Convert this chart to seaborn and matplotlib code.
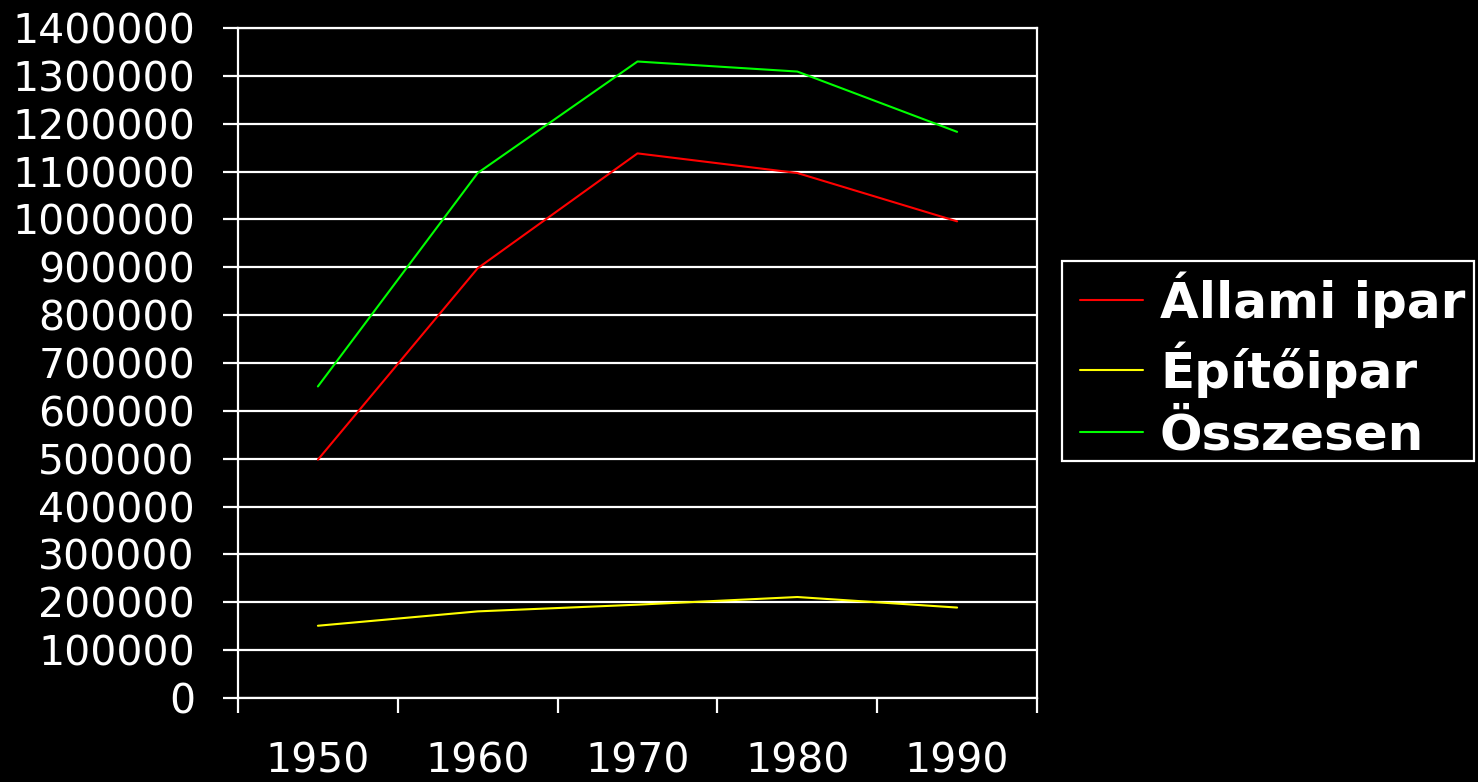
import matplotlib
matplotlib.use("Agg")
import matplotlib.pyplot as plt
import seaborn as sns
import pandas as pd
import numpy as np
from matplotlib.ticker import FixedLocator, NullFormatter
from matplotlib.patches import Rectangle

years = ["1950", "1960", "1970", "1980", "1990"]
allami_ipar = [498000, 898000, 1138000, 1097000, 996000]
epitoipar = [151000, 181000, 195000, 211000, 189000]
osszesen = [651000, 1097000, 1330000, 1309000, 1183000]
series_names = ["Állami ipar", "Építőipar", "Összesen"]
colors = ["#FF0000", "#FFFF00", "#00FF00"]
y_ticks = list(range(0, 1400001, 100000))

df = pd.DataFrame({
    "pos": list(range(len(years))) * 3,
    "value": allami_ipar + epitoipar + osszesen,
    "series": [series_names[0]] * 5 + [series_names[1]] * 5 + [series_names[2]] * 5,
})

sns.set_style("dark")
plt.rcParams["font.family"] = ["DejaVu Sans"]

fig = plt.figure(figsize=(14.78, 7.82), dpi=100, facecolor="black")
ax = fig.add_axes([238 / 1478, 1 - 698 / 782, (1037 - 238) / 1478, (698 - 28) / 782])
ax.set_facecolor("black")

sns.lineplot(data=df, x="pos", y="value", hue="series", palette=colors,
             linewidth=1.5, ax=ax, legend=True)

ax.set_xlim(-0.5, 4.5)
ax.set_ylim(0, 1400000)
ax.set_yticks(y_ticks)
ax.set_yticklabels([str(v) for v in y_ticks])
ax.yaxis.grid(True, color="white", linewidth=1.6)
ax.xaxis.grid(False)

ax.xaxis.set_major_locator(FixedLocator(np.arange(-0.5, 5.0, 1.0)))
ax.xaxis.set_major_formatter(NullFormatter())
ax.xaxis.set_minor_locator(FixedLocator(np.arange(0, 5)))
ax.set_xticklabels(years, minor=True, fontsize=29.5)
ax.tick_params(axis="x", which="major", length=11, width=1.6, color="white", direction="out", bottom=True)
ax.tick_params(axis="x", which="minor", length=0, pad=31, labelcolor="white")
ax.tick_params(axis="y", length=11, width=1.6, color="white", pad=20, labelsize=29.5,
               labelcolor="white", left=True)
ax.set_xlabel("")
ax.set_ylabel("")

for side in ["left", "right", "bottom", "top"]:
    ax.spines[side].set_visible(True)
    ax.spines[side].set_color("white")
    ax.spines[side].set_linewidth(1.6)

# legend frame drawn separately (outline only)
frame = Rectangle((1062 / 1478, 1 - 461 / 782), (1474 - 1062) / 1478, 200 / 782,
                  transform=fig.transFigure, facecolor="none", edgecolor="white",
                  linewidth=1.6, zorder=5)
fig.patches.append(frame)

handles, labels = ax.get_legend_handles_labels()
leg = ax.legend(handles, labels, loc="upper left",
                bbox_to_anchor=(1080 / 1478, 1 - 271 / 782),
                bbox_transform=fig.transFigure,
                frameon=False,
                prop={"weight": "bold", "size": 36}, labelcolor="white",
                handlelength=1.26, handletextpad=0.34, borderaxespad=0, borderpad=0,
                labelspacing=0.27)
for line in leg.get_lines():
    line.set_linewidth(1.5)

fig.savefig("out.png", dpi=100, facecolor="black")
